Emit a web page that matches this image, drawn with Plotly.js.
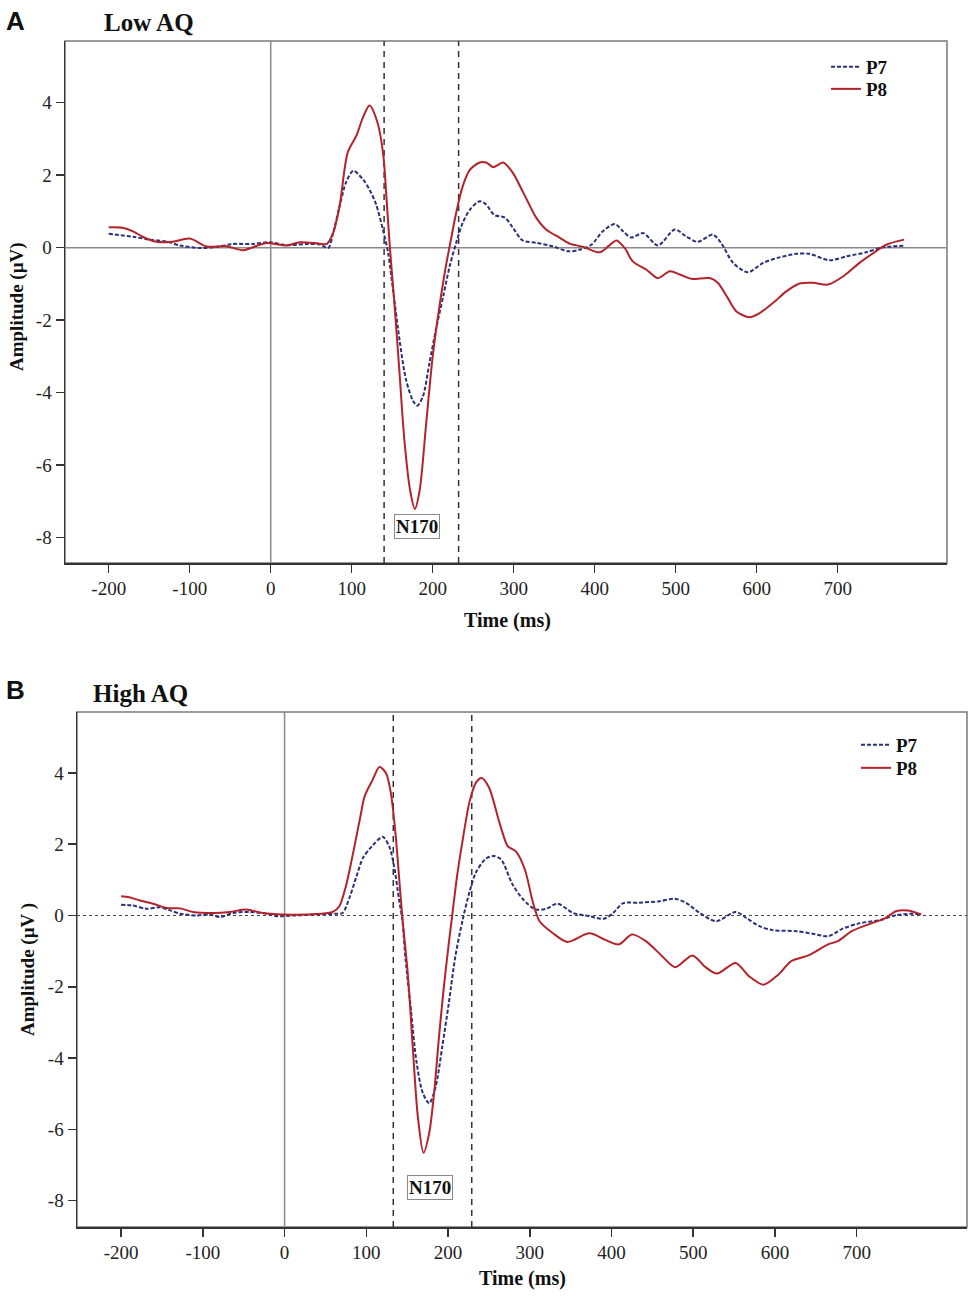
<!DOCTYPE html>
<html>
<head>
<meta charset="utf-8">
<script src="https://cdn.plot.ly/plotly-3.0.1.min.js"></script>
<style>
  body { margin: 0; background: #fff; }
  #chart { width: 977px; height: 1300px; }
</style>
</head>
<body>
<div id="chart"></div>
<script>
// Panel A - Low AQ
var lowP7Time = [-200, -170, -149, -129, -112, -88, -67, -47, -22, -1, 19, 44, 60, 71, 77, 85, 93, 102, 114, 122,
	130, 139, 145, 151, 159, 167, 176, 181, 188, 196, 204, 213, 221, 229, 237, 246, 258, 266, 276, 289,
	299, 311, 328, 348, 367, 381, 396, 410, 425, 435, 445, 460, 478, 499, 513, 527, 546, 556, 571, 589,
	608, 628, 649, 665, 690, 711, 735, 756, 781];
var lowP7Amp = [0.38, 0.30, 0.22, 0.17, 0.06, -0.01, 0.02, 0.10, 0.10, 0.15, 0.07, 0.10, 0.09, -0.01, 0.40, 1.14, 1.80, 2.12, 1.88, 1.60,
	1.20, 0.45, -0.15, -1.16, -2.54, -3.64, -4.24, -4.36, -4.10, -3.18, -2.26, -1.34, -0.51, 0.13, 0.68, 1.05, 1.28, 1.19, 0.90, 0.83,
	0.55, 0.20, 0.13, 0.04, -0.10, -0.06, 0.08, 0.45, 0.65, 0.45, 0.28, 0.40, 0.06, 0.50, 0.31, 0.16, 0.36, 0.13, -0.42, -0.68,
	-0.42, -0.27, -0.17, -0.17, -0.35, -0.24, -0.13, 0.01, 0.05];

var lowP8Time = [-200, -183, -170, -158, -141, -121, -100, -79, -55, -34, -17, -5, 20, 36, 60, 69, 77, 85, 95, 106,
	114, 122, 132, 139, 143, 147, 153, 159, 165, 172, 178, 184, 192, 200, 209, 217, 221, 229, 237, 246,
	258, 266, 275, 287, 299, 312, 328, 340, 357, 369, 386, 406, 417, 427, 437, 447, 464, 478, 493, 505,
	519, 542, 552, 563, 575, 591, 604, 620, 637, 653, 670, 688, 707, 727, 744, 760, 782];
var lowP8Amp = [0.56, 0.55, 0.45, 0.30, 0.16, 0.16, 0.25, 0.03, 0.04, -0.07, 0.05, 0.13, 0.06, 0.15, 0.11, 0.10, 0.40, 1.14, 2.62, 3.10,
	3.60, 3.92, 3.44, 2.55, 1.35, 0.04, -1.62, -3.45, -5.30, -6.68, -7.21, -6.68, -4.84, -3.00, -1.52, -0.42, 0.04, 0.96, 1.69, 2.15,
	2.35, 2.35, 2.22, 2.35, 2.06, 1.51, 0.82, 0.50, 0.27, 0.11, 0.02, -0.13, 0.04, 0.20, -0.01, -0.38, -0.61, -0.84, -0.65, -0.74,
	-0.86, -0.84, -0.97, -1.34, -1.76, -1.92, -1.80, -1.53, -1.20, -0.99, -0.97, -1.02, -0.79, -0.42, -0.15, 0.08, 0.22];

// Panel B - High AQ
var highP7Time = [-200, -186, -169, -153, -141, -128, -108, -92, -79, -63, -43, -22, -10, 10, 43, 63, 71, 80, 88, 96,
	108, 120, 128, 134, 140, 144, 148, 155, 161, 169, 177, 185, 193, 201, 209, 218, 226, 234, 246, 256,
	265, 279, 292, 307, 320, 334, 353, 373, 391, 402, 414, 434, 459, 477, 491, 508, 528, 552, 565, 581,
	597, 626, 646, 665, 683, 703, 728, 748, 769, 779];
var highP7Amp = [0.30, 0.28, 0.19, 0.23, 0.15, 0.05, 0.00, 0.03, -0.04, 0.07, 0.10, 0.05, -0.02, 0.00, 0.03, 0.05, 0.07, 0.54, 1.10, 1.62,
	1.97, 2.21, 1.94, 1.38, 0.45, -0.11, -1.23, -2.73, -4.04, -4.97, -5.27, -4.79, -3.67, -2.45, -1.14, -0.11, 0.64, 1.20, 1.59, 1.67,
	1.57, 0.87, 0.45, 0.17, 0.19, 0.33, 0.07, -0.02, -0.09, 0.07, 0.34, 0.36, 0.40, 0.47, 0.36, 0.07, -0.16, 0.10, -0.07, -0.30,
	-0.41, -0.44, -0.51, -0.58, -0.37, -0.22, -0.13, 0.01, 0.05, 0.03];

var highP8Time = [-200, -190, -177, -161, -144, -128, -112, -87, -67, -47, -27, -2, 39, 59, 67, 75, 83, 92, 98, 108,
	116, 124, 130, 136, 140, 144, 151, 157, 163, 170, 177, 183, 189, 195, 201, 205, 211, 218, 226, 234,
	241, 250, 263, 273, 283, 294, 304, 312, 328, 346, 373, 393, 409, 425, 442, 462, 478, 499, 515, 529,
	552, 568, 586, 604, 620, 641, 665, 677, 694, 718, 734, 748, 763, 779];
var highP8Amp = [0.54, 0.51, 0.42, 0.33, 0.21, 0.20, 0.10, 0.07, 0.10, 0.17, 0.07, 0.03, 0.04, 0.10, 0.26, 0.82, 1.66, 2.69, 3.35, 3.82,
	4.17, 4.00, 3.44, 2.23, 1.10, -0.02, -1.70, -3.76, -5.63, -6.66, -6.10, -4.97, -3.39, -1.98, -0.77, -0.02, 1.10, 2.13, 3.16, 3.72,
	3.86, 3.60, 2.60, 1.95, 1.80, 1.29, 0.36, -0.16, -0.49, -0.74, -0.50, -0.69, -0.81, -0.53, -0.72, -1.14, -1.45, -1.12, -1.45, -1.63,
	-1.33, -1.70, -1.94, -1.66, -1.28, -1.12, -0.81, -0.72, -0.44, -0.22, -0.09, 0.12, 0.14, 0.03];

// N170 window edges (ms)
var lowWindow = [140, 232];
var highWindow = [133, 229];

var xTicks = [-200, -100, 0, 100, 200, 300, 400, 500, 600, 700];
var xTickText = ["-200", "-100", "0", "100", "200", "300", "400", "500", "600", "700"];
var yTicks = [-8, -6, -4, -2, 0, 2, 4];
var yTickText = ["-8", "-6", "-4", "-2", "0", "2", "4"];

var serif = "Liberation Serif, Times New Roman, serif";
var p7Color = "#2b307a";
var p8Color = "#b3232b";

var makeTrace = function (x, y, name, color, dash, xa, ya, legend) {
	return {
		x: x, y: y, name: name, type: "scatter", mode: "lines",
		xaxis: xa, yaxis: ya, legend: legend,
		line: { color: color, width: 2, dash: dash, shape: "spline", smoothing: 0.8 }
	};
};

// one legend per trace so the two rows sit as close as in the figure
var data = [
	makeTrace(lowP7Time, lowP7Amp, "P7", p7Color, "4px,2px", "x", "y", "legend"),
	makeTrace(lowP8Time, lowP8Amp, "P8", p8Color, "solid", "x", "y", "legend2"),
	makeTrace(highP7Time, highP7Amp, "P7", p7Color, "4px,2px", "x2", "y2", "legend3"),
	makeTrace(highP8Time, highP8Amp, "P8", p8Color, "solid", "x2", "y2", "legend4")
];

var xAxisStyle = function (domain, anchor) {
	return {
		domain: domain, anchor: anchor, range: [-254, 835],
		tickvals: xTicks, ticktext: xTickText, ticks: "outside", ticklen: 8, tickwidth: 1.5, tickcolor: "#333",
		showline: true, linecolor: "#333", linewidth: 1.5,
		showgrid: false, zeroline: false,
		tickfont: { family: serif, size: 19, color: "#222" }
	};
};
var yAxisStyle = function (domain, anchor, range) {
	return {
		domain: domain, anchor: anchor, range: range,
		tickvals: yTicks, ticktext: yTickText, ticks: "outside", ticklen: 8, tickwidth: 1.5, tickcolor: "#333",
		showline: true, linecolor: "#333", linewidth: 1.5,
		showgrid: false, zeroline: false,
		tickfont: { family: serif, size: 19, color: "#222" }
	};
};

// frame, zero lines and N170 window for one panel
var panelShapes = function (xa, ya, win, zeroDash) {
	var s = [];
	s.push({ type: "rect", xref: xa + " domain", yref: ya + " domain", x0: 0, x1: 1, y0: 0, y1: 1,
		line: { color: "#7a7a7a", width: 1.5 }, layer: "below" });
	s.push({ type: "line", xref: xa + " domain", yref: ya, x0: 0, x1: 1, y0: 0, y1: 0,
		line: { color: zeroDash == "solid" ? "#8a8a8a" : "#444", width: zeroDash == "solid" ? 1.5 : 1, dash: zeroDash }, layer: "below" });
	s.push({ type: "line", xref: xa, yref: ya + " domain", x0: 0, x1: 0, y0: 0, y1: 1,
		line: { color: "#8a8a8a", width: 1.5 }, layer: "below" });
	for (var i = 0; i < win.length; i++) {
		s.push({ type: "line", xref: xa, yref: ya + " domain", x0: win[i], x1: win[i], y0: 0, y1: 1,
			line: { color: "#333", width: 1.5, dash: "6px,5px" }, layer: "below" });
	}
	return s;
};

var txt = function (x, y, text, size, extra) {
	var a = { xref: "paper", yref: "paper", x: x, y: y, text: text, showarrow: false,
		xanchor: "center", yanchor: "middle",
		font: { family: serif, size: size, color: "#111" } };
	for (var k in extra) a[k] = extra[k];
	return a;
};

var W = 977, H = 1300;
var px = function (v) { return v / W; };
var py = function (v) { return 1 - v / H; };

var sans = { family: "Liberation Sans, Arial, sans-serif", size: 26, color: "#111" };

var annotations = [
	txt(px(4), py(21), "<b>A</b>", 26, { xanchor: "left", font: sans }),
	txt(px(102), py(22), "<b>Low AQ</b>", 25, { xanchor: "left" }),
	txt(px(507), py(621), "<b>Time (ms)</b>", 20, {}),
	txt(px(17), py(307), "<b>Amplitude (µV)</b>", 19, { textangle: -90 }),
	{ xref: "x", yref: "y", x: 180, y: -7.7, text: "<b>N170</b>", showarrow: false,
		font: { family: serif, size: 19, color: "#111" }, bordercolor: "#8a8a8a", borderwidth: 1, borderpad: 1, bgcolor: "#fff" },

	txt(px(4), py(690), "<b>B</b>", 26, { xanchor: "left", font: sans }),
	txt(px(91), py(693), "<b>High AQ</b>", 25, { xanchor: "left" }),
	txt(px(522), py(1278), "<b>Time (ms)</b>", 20, {}),
	txt(px(28), py(970), "<b>Amplitude (µV )</b>", 19, { textangle: -90 }),
	{ xref: "x2", yref: "y2", x: 178, y: -7.63, text: "<b>N170</b>", showarrow: false,
		font: { family: serif, size: 19, color: "#111" }, bordercolor: "#8a8a8a", borderwidth: 1, borderpad: 1, bgcolor: "#fff" }
];

var legendStyle = function (x, y) {
	return { x: x, y: y, xanchor: "left", yanchor: "middle", bgcolor: "rgba(0,0,0,0)",
		font: { family: serif, size: 19, color: "#111", weight: "bold" }, itemwidth: 30 };
};

var layout = {
	width: W, height: H,
	margin: { l: 0, r: 0, t: 0, b: 0 },
	paper_bgcolor: "#fff", plot_bgcolor: "#fff",
	showlegend: true,
	xaxis: xAxisStyle([px(65), px(947)], "y"),
	yaxis: yAxisStyle([py(563), py(41)], "x", [-8.7, 5.7]),
	xaxis2: xAxisStyle([px(77), px(967)], "y2"),
	yaxis2: yAxisStyle([py(1227), py(712)], "x2", [-8.74, 5.71]),
	legend: legendStyle(px(826), py(67)),
	legend2: legendStyle(px(826), py(89)),
	legend3: legendStyle(px(856), py(745)),
	legend4: legendStyle(px(856), py(768)),
	shapes: panelShapes("x", "y", lowWindow, "solid").concat(panelShapes("x2", "y2", highWindow, "dot")),
	annotations: annotations
};

Plotly.newPlot("chart", data, layout, { displayModeBar: false, staticPlot: true });
</script>
</body>
</html>
